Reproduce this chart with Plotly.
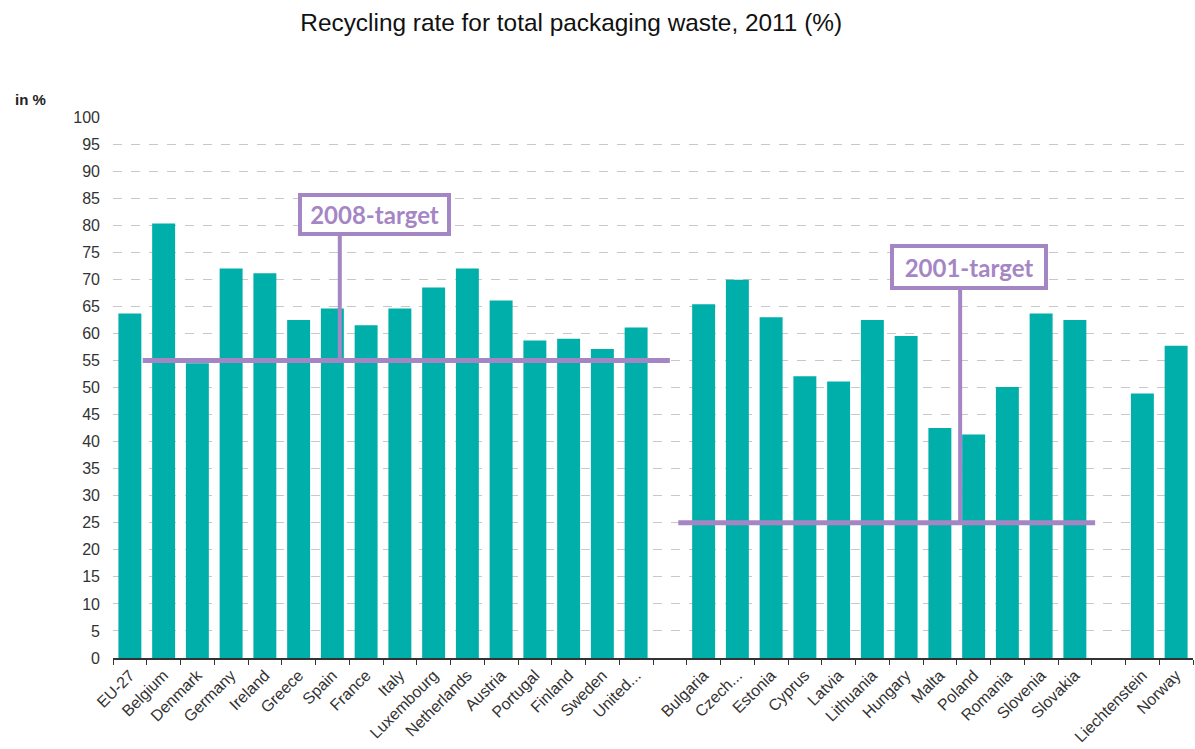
import plotly.graph_objects as go

categories = ["EU-27", "Belgium", "Denmark", "Germany", "Ireland", "Greece", "Spain", "France",
              "Italy", "Luxembourg", "Netherlands", "Austria", "Portugal", "Finland", "Sweden",
              "United...", " ", "Bulgaria", "Czech...", "Estonia", "Cyprus", "Latvia", "Lithuania",
              "Hungary", "Malta", "Poland", "Romania", "Slovenia", "Slovakia", "  ",
              "Liechtenstein", "Norway"]
values = [63.7, 80.3, 54.5, 72.0, 71.1, 62.5, 64.6, 61.5,
          64.6, 68.5, 72.0, 66.1, 58.7, 59.0, 57.1,
          61.1, None, 65.4, 69.9, 63.0, 52.1, 51.1, 62.5,
          59.5, 42.5, 41.3, 50.1, 63.7, 62.5, None,
          48.9, 57.7]
target_2008 = 55
target_2001 = 25
y_ticks = list(range(0, 101, 5))

TEAL = "#00AFAA"
PURPLE = "#A586C5"

fig = go.Figure()
fig.add_trace(go.Bar(x=categories, y=values, marker=dict(color=TEAL, line=dict(width=0)),
                     hoverinfo="x+y"))

i08_start = categories.index("EU-27")
i08_end = categories.index(" ")
i01_start = categories.index(" ")
i01_end = categories.index("  ")
i_spain = categories.index("Spain")
i_poland = categories.index("Poland")

shapes = [
    dict(type="line", xref="x", yref="y", x0=i08_start + 0.38, x1=i08_end, y0=target_2008, y1=target_2008,
         line=dict(color=PURPLE, width=5)),
    dict(type="line", xref="x", yref="y", x0=i_spain + 0.22, x1=i_spain + 0.22,
         y0=target_2008, y1=78.5, line=dict(color=PURPLE, width=4)),
    dict(type="line", xref="x", yref="y", x0=i01_start + 0.25, x1=i01_end - 0.4, y0=target_2001, y1=target_2001,
         line=dict(color=PURPLE, width=5)),
    dict(type="line", xref="x", yref="y", x0=i_poland - 0.4, x1=i_poland - 0.4,
         y0=target_2001, y1=68.5, line=dict(color=PURPLE, width=4)),
]

annotations = [
    dict(text="<b>2008-target</b>", xref="x", yref="y", x=i_spain + 1.24, y=82.0,
         width=137, height=27,
         showarrow=False, font=dict(family="Lato, Open Sans, sans-serif", size=24, color=PURPLE),
         bordercolor=PURPLE, borderwidth=4, borderpad=4, bgcolor="white"),
    dict(text="<b>2001-target</b>", xref="x", yref="y", x=i_poland - 0.15, y=72.2,
         width=142, height=30,
         showarrow=False, font=dict(family="Lato, Open Sans, sans-serif", size=24, color=PURPLE),
         bordercolor=PURPLE, borderwidth=4, borderpad=4, bgcolor="white"),
    dict(text="<b>in %</b>", xref="paper", yref="paper", x=-0.093, y=1.032, xanchor="left", yanchor="middle",
         showarrow=False, font=dict(family="Liberation Sans, Arial, sans-serif", size=15, color="#222")),
]

fig.update_layout(
    width=1195, height=749,
    margin=dict(l=113, r=2, t=117, b=91),
    paper_bgcolor="white", plot_bgcolor="white",
    title=dict(text="Recycling rate for total packaging waste, 2011 (%)", x=0.478, xanchor="center",
               y=0.97, yanchor="middle",
               font=dict(family="Liberation Sans, Arial, sans-serif", size=24.4, color="#111")),
    bargap=0.32,
    showlegend=False,
    shapes=shapes,
    annotations=annotations,
    xaxis=dict(type="category", categoryorder="array", categoryarray=categories,
               tickangle=-45, ticks="outside", tickson="boundaries", ticklen=5, tickcolor="#333",
               showline=True, linecolor="#333", linewidth=1.5, showgrid=False, automargin=False,
               tickfont=dict(family="Liberation Sans, Arial, sans-serif", size=16, color="#333")),
    yaxis=dict(range=[0, 100], tickvals=y_ticks, showgrid=True, gridcolor="#c8c8c8", griddash="dash",
               gridwidth=1, zeroline=False, showline=False, ticklabelstandoff=12, automargin=False,
               tickfont=dict(family="Liberation Sans, Arial, sans-serif", size=16, color="#333")),
)

fig.write_html("out.html", config={"displayModeBar": False})

# remove the default page margin so the figure sits at the window origin
with open("out.html", "r", encoding="utf-8") as f:
    html = f.read()
html = html.replace("<head>", "<head><style>html,body{margin:0;padding:0;overflow:hidden;}</style>", 1)
with open("out.html", "w", encoding="utf-8") as f:
    f.write(html)
